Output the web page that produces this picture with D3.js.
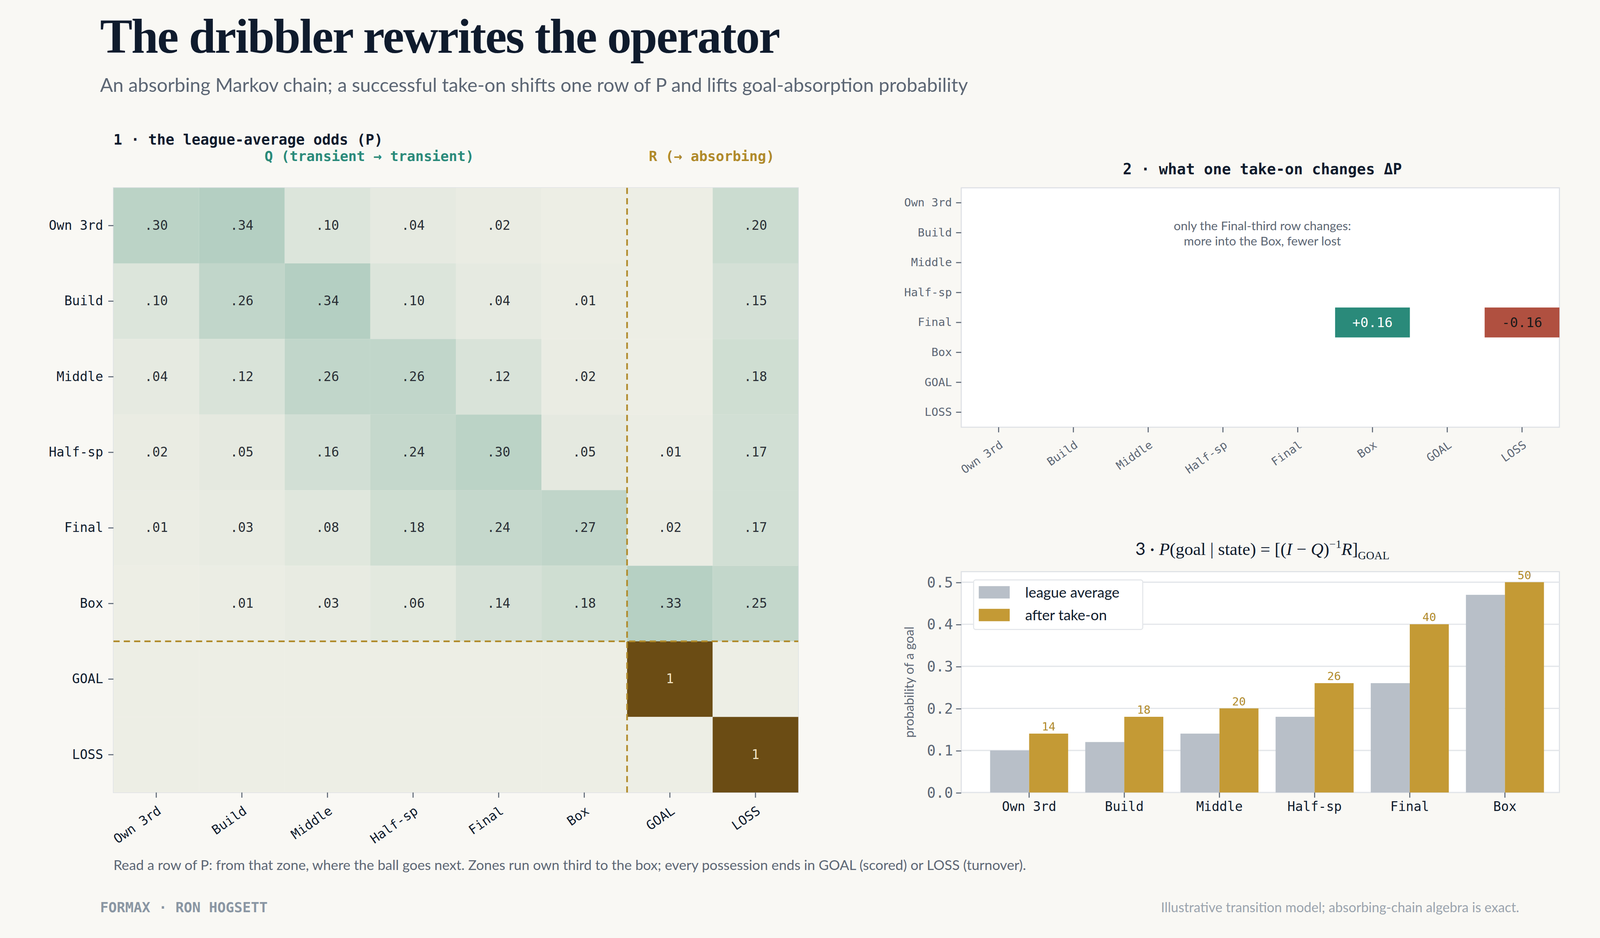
<!DOCTYPE html>
<html><head><meta charset="utf-8">
<script src="https://cdn.jsdelivr.net/npm/d3@7"></script>
<style>
body{margin:0;background:#f9f8f4;}
svg{display:block;}
.mono{font-family:"DejaVu Sans Mono","Liberation Mono",monospace;}
.sans{font-family:Lato,"Noto Sans",sans-serif;}
</style></head>
<body>
<svg id="chart" width="4140" height="2400" viewBox="0 0 1568 909"></svg>
<script>
// states of the chain
const states = ['Own 3rd', 'Build', 'Middle', 'Half-sp', 'Final', 'Box', 'GOAL', 'LOSS'];
const zones = states.slice(0, 6);

// league-average transition matrix P (null = blank cell)
const P = [
    [.30, .34, .10, .04, .02, null, null, .20],
    [.10, .26, .34, .10, .04, .01, null, .15],
    [.04, .12, .26, .26, .12, .02, null, .18],
    [.02, .05, .16, .24, .30, .05, .01, .17],
    [.01, .03, .08, .18, .24, .27, .02, .17],
    [null, .01, .03, .06, .14, .18, .33, .25],
    [null, null, null, null, null, null, 1, null],
    [null, null, null, null, null, null, null, 1]
];

// what one take-on changes
const deltaCells = [
    { row: 'Final', col: 'Box', value: 0.16 },
    { row: 'Final', col: 'LOSS', value: -0.16 }
];

// goal absorption probabilities
const leagueAvg = [0.10, 0.12, 0.14, 0.18, 0.26, 0.47];
const afterTakeOn = [0.14, 0.18, 0.20, 0.26, 0.40, 0.50];
const yTicks = [0, 0.1, 0.2, 0.3, 0.4, 0.5];

const svg = d3.select('#chart');
const ink = '#0f1b2d', grey = '#5c6674', teal = '#2a8a7a', gold = '#b08a2a', rust = '#b05040';

// header
svg.append('text').attr('x', 97).attr('y', 51)
    .style('font-family', '"Liberation Serif","DejaVu Serif",serif').style('font-weight', 700)
    .style('font-size', '47px').style('letter-spacing', '-1px').attr('fill', ink)
    .text('The dribbler rewrites the operator');
svg.append('text').attr('class', 'sans').attr('x', 97).attr('y', 89)
    .style('font-size', '18.5px').attr('fill', grey)
    .text('An absorbing Markov chain; a successful take-on shifts one row of P and lifts goal-absorption probability');

// ---------- panel 1: heatmap ----------
const hx = d3.scaleBand().domain(states).range([110, 774]);
const hy = d3.scaleBand().domain(states).range([182, 768]);
const heatColor = d3.scaleLinear().domain([0, 0.34]).range(['#edeee5', '#b4cfc2']).clamp(true);

svg.append('text').attr('class', 'mono').attr('x', 110).attr('y', 140)
    .style('font-size', '14px').style('font-weight', 700).attr('fill', ink)
    .text('1 · the league-average odds  (P)');
svg.append('text').attr('class', 'mono').attr('x', 358).attr('y', 156).attr('text-anchor', 'middle')
    .style('font-size', '13.5px').style('font-weight', 700).attr('fill', teal)
    .text('Q  (transient → transient)');
svg.append('text').attr('class', 'mono').attr('x', 690).attr('y', 156).attr('text-anchor', 'middle')
    .style('font-size', '13.5px').style('font-weight', 700).attr('fill', gold)
    .text('R  (→ absorbing)');

const cells = [];
P.forEach((row, i) => row.forEach((v, j) => cells.push({ r: states[i], c: states[j], v })));

svg.append('rect').attr('x', 110).attr('y', 182).attr('width', 664).attr('height', 586)
    .attr('fill', 'none').attr('stroke', '#dde0e5');
const heat = svg.append('g');
heat.selectAll('rect').data(cells).enter().append('rect')
    .attr('x', d => hx(d.c)).attr('y', d => hy(d.r))
    .attr('width', hx.bandwidth()).attr('height', hy.bandwidth())
    .attr('fill', d => d.v === 1 ? '#6b4c14' : heatColor(d.v || 0));
heat.selectAll('text').data(cells.filter(d => d.v !== null)).enter().append('text')
    .attr('class', 'mono')
    .attr('x', d => hx(d.c) + hx.bandwidth() / 2).attr('y', d => hy(d.r) + hy.bandwidth() / 2 + 4)
    .attr('text-anchor', 'middle').style('font-size', '12.5px')
    .attr('fill', d => d.v === 1 ? '#f3e6c8' : '#2a2f36')
    .text(d => d.v === 1 ? '1' : d3.format('.2f')(d.v).replace(/^0/, ''));

svg.append('line').attr('x1', hx('GOAL')).attr('x2', hx('GOAL')).attr('y1', 182).attr('y2', 768)
    .attr('stroke', gold).attr('stroke-width', 1.6).attr('stroke-dasharray', '6,4');
svg.append('line').attr('x1', 110).attr('x2', 774).attr('y1', hy('GOAL')).attr('y2', hy('GOAL'))
    .attr('stroke', gold).attr('stroke-width', 1.6).attr('stroke-dasharray', '6,4');

function styleAxis(g) {
    g.select('.domain').remove();
    g.selectAll('.tick line').attr('stroke', grey);
    g.selectAll('.tick text').attr('class', 'mono').style('font-size', '12.5px').attr('fill', ink);
}
svg.append('g').attr('transform', 'translate(110,0)')
    .call(d3.axisLeft(hy).tickSize(5).tickPadding(5)).call(styleAxis);
svg.append('g').attr('transform', 'translate(0,768)')
    .call(d3.axisBottom(hx).tickSize(5)).call(styleAxis)
    .selectAll('.tick text').attr('text-anchor', 'end')
    .attr('transform', 'translate(-4,6) rotate(-35)').attr('dy', '0.7em');

svg.append('text').attr('class', 'sans').attr('x', 110).attr('y', 843)
    .style('font-size', '13.5px').attr('fill', grey)
    .text('Read a row of P: from that zone, where the ball goes next. Zones run own third to the box; every possession ends in GOAL (scored) or LOSS (turnover).');

// ---------- panel 2: delta P ----------
const dx = d3.scaleBand().domain(states).range([932, 1512]);
const dy = d3.scaleBand().domain(states).range([182, 414]);
svg.append('rect').attr('x', 932).attr('y', 182).attr('width', 580).attr('height', 232)
    .attr('fill', '#fff').attr('stroke', '#dde0e5');
svg.append('text').attr('class', 'mono').attr('x', 1224).attr('y', 169).attr('text-anchor', 'middle')
    .style('font-size', '14.5px').style('font-weight', 700).attr('fill', ink)
    .text('2 · what one take-on changes   ΔP');
svg.append('text').attr('class', 'sans').attr('x', 1224).attr('y', 223).attr('text-anchor', 'middle')
    .style('font-size', '12px').attr('fill', grey).text('only the Final-third row changes:');
svg.append('text').attr('class', 'sans').attr('x', 1224).attr('y', 238).attr('text-anchor', 'middle')
    .style('font-size', '12px').attr('fill', grey).text('more into the Box, fewer lost');
svg.selectAll('.dcell').data(deltaCells).enter().append('rect').attr('class', 'dcell')
    .attr('x', d => dx(d.col)).attr('y', d => dy(d.row))
    .attr('width', dx.bandwidth()).attr('height', dy.bandwidth())
    .attr('fill', d => d.value > 0 ? teal : rust);
svg.selectAll('.dlab').data(deltaCells).enter().append('text').attr('class', 'mono dlab')
    .attr('x', d => dx(d.col) + dx.bandwidth() / 2).attr('y', d => dy(d.row) + dy.bandwidth() / 2 + 4.5)
    .attr('text-anchor', 'middle').style('font-size', '13px')
    .attr('fill', d => d.value > 0 ? '#fff' : '#1a1a1a')
    .text(d => d3.format('+.2f')(d.value).replace('−', '-'));

function styleSmall(g) {
    g.select('.domain').remove();
    g.selectAll('.tick line').attr('stroke', grey);
    g.selectAll('.tick text').attr('class', 'mono').style('font-size', '11px').attr('fill', grey);
}
svg.append('g').attr('transform', 'translate(932,0)')
    .call(d3.axisLeft(dy).tickSize(5).tickPadding(4)).call(styleSmall);
svg.append('g').attr('transform', 'translate(0,414)')
    .call(d3.axisBottom(dx).tickSize(5)).call(styleSmall)
    .selectAll('.tick text').attr('text-anchor', 'end')
    .attr('transform', 'translate(-4,6) rotate(-35)').attr('dy', '0.7em');

// ---------- panel 3: goal probability ----------
const bx = d3.scaleBand().domain(zones).range([960, 1497]).paddingInner(0.18);
const bsub = d3.scaleBand().domain(['avg', 'after']).range([0, bx.bandwidth()]);
const by = d3.scaleLinear().domain([0, 0.525]).range([768, 554]);

svg.append('rect').attr('x', 932).attr('y', 554).attr('width', 580).attr('height', 214)
    .attr('fill', '#fff').attr('stroke', '#dde0e5');
const t3 = svg.append('text').attr('x', 1224).attr('y', 538).attr('text-anchor', 'middle')
    .style('font-family', '"Liberation Serif","DejaVu Serif",serif').style('font-size', '17px').attr('fill', ink);
t3.append('tspan').style('font-family', 'Lato,sans-serif').text('3 · ');
t3.append('tspan').style('font-style', 'italic').text('P');
t3.append('tspan').text('(goal | state) = [(');
t3.append('tspan').style('font-style', 'italic').text('I');
t3.append('tspan').text(' − ');
t3.append('tspan').style('font-style', 'italic').text('Q');
t3.append('tspan').text(')');
t3.append('tspan').attr('dy', -7).style('font-size', '11px').text('−1');
t3.append('tspan').attr('dy', 7).style('font-style', 'italic').text('R');
t3.append('tspan').text(']');
t3.append('tspan').attr('dy', 4).style('font-size', '11px').text('GOAL');

svg.append('g').selectAll('line').data(yTicks).enter().append('line')
    .attr('x1', 932).attr('x2', 1512).attr('y1', d => by(d)).attr('y2', d => by(d))
    .attr('stroke', '#e3e6ea').attr('stroke-width', 1.2);

const groups = svg.append('g').selectAll('g').data(zones).enter().append('g')
    .attr('transform', d => `translate(${bx(d)},0)`);
groups.append('rect').attr('x', bsub('avg')).attr('width', bsub.bandwidth())
    .attr('y', (d, i) => by(leagueAvg[i])).attr('height', (d, i) => 768 - by(leagueAvg[i]))
    .attr('fill', '#b8bfc8');
groups.append('rect').attr('x', bsub('after')).attr('width', bsub.bandwidth())
    .attr('y', (d, i) => by(afterTakeOn[i])).attr('height', (d, i) => 768 - by(afterTakeOn[i]))
    .attr('fill', '#c49a35');
groups.append('text').attr('class', 'mono')
    .attr('x', bsub('after') + bsub.bandwidth() / 2).attr('y', (d, i) => by(afterTakeOn[i]) - 3)
    .attr('text-anchor', 'middle').style('font-size', '11px').attr('fill', gold)
    .text((d, i) => Math.round(afterTakeOn[i] * 100));

const yAx = svg.append('g').attr('transform', 'translate(932,0)')
    .call(d3.axisLeft(by).tickValues(yTicks).tickFormat(d3.format('.1f')).tickSize(5));
yAx.select('.domain').remove();
yAx.selectAll('.tick line').attr('stroke', grey);
yAx.selectAll('.tick text').attr('class', 'mono').style('font-size', '14px').attr('fill', grey);
const xAx = svg.append('g').attr('transform', 'translate(0,768)')
    .call(d3.axisBottom(bx).tickSize(5).tickPadding(4));
xAx.select('.domain').remove();
xAx.selectAll('.tick line').attr('stroke', grey);
xAx.selectAll('.tick text').attr('class', 'mono').style('font-size', '12.5px').attr('fill', ink);

svg.append('text').attr('class', 'sans').attr('transform', 'translate(886,661) rotate(-90)')
    .attr('text-anchor', 'middle').style('font-size', '12.5px').attr('fill', grey)
    .text('probability of a goal');

const leg = svg.append('g').attr('transform', 'translate(944,562)');
leg.append('rect').attr('width', 164).attr('height', 48).attr('rx', 2)
    .attr('fill', '#fff').attr('stroke', '#e3e6ea');
[['league average', '#b8bfc8'], ['after take-on', '#c49a35']].forEach((l, i) => {
    leg.append('rect').attr('x', 5).attr('y', 6 + i * 22).attr('width', 30).attr('height', 12).attr('fill', l[1]);
    leg.append('text').attr('class', 'sans').attr('x', 50).attr('y', 17 + i * 22)
        .style('font-size', '14px').attr('fill', ink).text(l[0]);
});

// footer
svg.append('text').attr('class', 'mono').attr('x', 97).attr('y', 884)
    .style('font-size', '13.5px').style('font-weight', 700).attr('fill', '#8a96a3')
    .text('FORMAX  ·  RON HOGSETT');
svg.append('text').attr('class', 'sans').attr('x', 1473).attr('y', 884).attr('text-anchor', 'end')
    .style('font-size', '13px').attr('fill', '#9aa3ad')
    .text('Illustrative transition model; absorbing-chain algebra is exact.');
</script>
</body></html>
